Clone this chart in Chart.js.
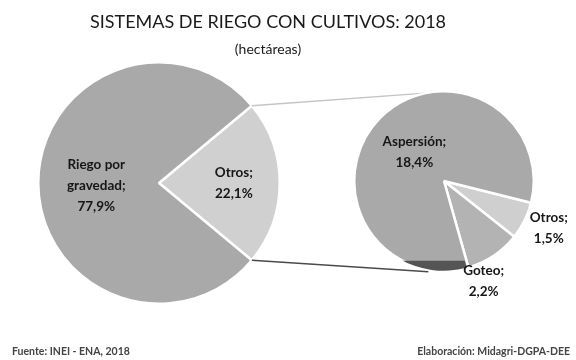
<!DOCTYPE html>
<html>
<head>
<meta charset="utf-8">
<script src="https://cdn.jsdelivr.net/npm/chart.js@4.4.1/dist/chart.umd.min.js"></script>
<style>
  html, body { margin: 0; padding: 0; background: #fff; }
  #wrap { position: relative; width: 576px; height: 360px; overflow: hidden; font-family: Lato, 'Open Sans', sans-serif; }
  canvas { position: absolute; left: 0; top: 0; }
  .txt { position: absolute; white-space: nowrap; color: #1a1a1a; }
  #title { left: 0; width: 536px; top: 10px; text-align: center; font-size: 18px; }
  #sub { left: 0; width: 536px; top: 40px; text-align: center; font-size: 14px; }
  #src { left: 12px; top: 345px; font-size: 10.5px; font-weight: bold; color: #444; }
  #elab { right: 6px; top: 345px; font-size: 10.5px; font-weight: bold; color: #444; }
</style>
</head>
<body>
<div id="wrap">
  <canvas id="mainPie" width="576" height="360"></canvas>
  <canvas id="subPie" width="576" height="360"></canvas>
  <div class="txt" id="title">SISTEMAS DE RIEGO CON CULTIVOS: 2018</div>
  <div class="txt" id="sub">(hectáreas)</div>
  <div class="txt" id="src">Fuente: INEI - ENA, 2018</div>
  <div class="txt" id="elab">Elaboración: Midagri-DGPA-DEE</div>
</div>
<script>
// main pie: share of irrigated area (%)
var mainLabels = ['Otros', 'Riego por\ngravedad'];
var mainValues = [22.1, 77.9];
var mainColors = ['#d0d0d0', '#a9a9a9'];

// breakdown of "Otros" (%)
var subLabels = ['Otros', 'Goteo', 'Aspersión'];
var subValues = [1.5, 2.2, 18.4];
var subColors = ['#cfcfcf', '#b3b3b3', '#a9a9a9'];

// label distance from centre (fraction of radius) and angular nudge (deg)
var mainLabelPos = [0.62, 0.52];
var mainLabelTurn = [0, -2];
var subLabelPos = [1.28, 1.2, 0.46];
var subLabelTurn = [-2, 12, 0];

function fmt(v) {
    return v.toFixed(1).replace('.', ',') + '%';
}

// writes "name; value" inside/around each slice
var sliceLabels = {
    id: 'sliceLabels',
    afterDatasetsDraw(chart, args, opts) {
        const ctx = chart.ctx;
        const meta = chart.getDatasetMeta(0);
        const values = chart.data.datasets[0].data;
        ctx.save();
        ctx.font = 'bold 13.5px Lato, sans-serif';
        ctx.fillStyle = '#161616';
        ctx.textAlign = 'center';
        ctx.textBaseline = 'middle';
        meta.data.forEach((arc, i) => {
            const mid = (arc.startAngle + arc.endAngle) / 2 + opts.turn[i] * Math.PI / 180;
            const d = arc.outerRadius * opts.pos[i];
            const x = arc.x + Math.cos(mid) * d;
            const y = arc.y + Math.sin(mid) * d;
            const lines = (chart.data.labels[i] + ';').split('\n');
            lines.push(fmt(values[i]));
            const lh = 21;
            lines.forEach((t, k) => {
                ctx.fillText(t, x, y + (k - (lines.length - 1) / 2) * lh);
            });
        });
        ctx.restore();
    }
};

var mainChart = new Chart(document.getElementById('mainPie'), {
    type: 'pie',
    data: {
        labels: mainLabels,
        datasets: [{
            data: mainValues,
            backgroundColor: mainColors,
            borderColor: '#ffffff',
            borderWidth: 2.5
        }]
    },
    options: {
        responsive: false,
        animation: false,
        rotation: 90 - mainValues[0] / 100 * 180,
        layout: { padding: { left: 37, right: 295, top: 61, bottom: 55 } },
        plugins: {
            legend: { display: false },
            tooltip: { enabled: false },
            sliceLabels: { pos: mainLabelPos, turn: mainLabelTurn }
        }
    },
    plugins: [sliceLabels]
});

// connector lines from the main "Otros" slice to the breakdown pie,
// plus the dark rim along the bottom of the breakdown pie
var connectors = {
    id: 'connectors',
    beforeDatasetsDraw(chart) {
        const ctx = chart.ctx;
        const src = mainChart.getDatasetMeta(0).data[0];
        const big = chart.getDatasetMeta(0).data[0];
        const cx = big.x, cy = big.y, r = big.outerRadius;
        const a0 = src.startAngle, a1 = src.endAngle;
        const tilt = 12 * Math.PI / 180;
        ctx.save();
        ctx.lineWidth = 1.3;
        ctx.strokeStyle = '#c4c4c4';
        ctx.beginPath();
        ctx.moveTo(src.x + Math.cos(a0) * src.outerRadius, src.y + Math.sin(a0) * src.outerRadius);
        ctx.lineTo(cx + Math.cos(-Math.PI / 2 - tilt) * r, cy + Math.sin(-Math.PI / 2 - tilt) * r);
        ctx.stroke();
        ctx.strokeStyle = '#4a4a4a';
        ctx.lineWidth = 1.6;
        ctx.beginPath();
        ctx.moveTo(src.x + Math.cos(a1) * src.outerRadius, src.y + Math.sin(a1) * src.outerRadius);
        ctx.lineTo(cx + Math.cos(Math.PI / 2 + tilt) * r + 3, cy + Math.sin(Math.PI / 2 + tilt) * r + 3);
        ctx.stroke();
        ctx.restore();
    },
    afterDatasetsDraw(chart) {
        const ctx = chart.ctx;
        const arc = chart.getDatasetMeta(0).data[2];
        ctx.save();
        ctx.beginPath();
        ctx.moveTo(arc.x, arc.y);
        ctx.arc(arc.x, arc.y, arc.outerRadius, arc.startAngle + 0.02, arc.endAngle);
        ctx.closePath();
        ctx.clip();
        ctx.fillStyle = '#555555';
        ctx.fillRect(arc.x - arc.outerRadius, arc.y + arc.outerRadius - 10, arc.outerRadius * 2, 12);
        ctx.restore();
    }
};

var subChart = new Chart(document.getElementById('subPie'), {
    type: 'pie',
    data: {
        labels: subLabels,
        datasets: [{
            data: subValues,
            backgroundColor: subColors,
            borderColor: '#ffffff',
            borderWidth: 2.5
        }]
    },
    options: {
        responsive: false,
        animation: false,
        rotation: 104,
        layout: { padding: { left: 353, right: 41, top: 90, bottom: 88 } },
        plugins: {
            legend: { display: false },
            tooltip: { enabled: false },
            sliceLabels: { pos: subLabelPos, turn: subLabelTurn }
        }
    },
    plugins: [connectors, sliceLabels]
});
</script>
</body>
</html>
